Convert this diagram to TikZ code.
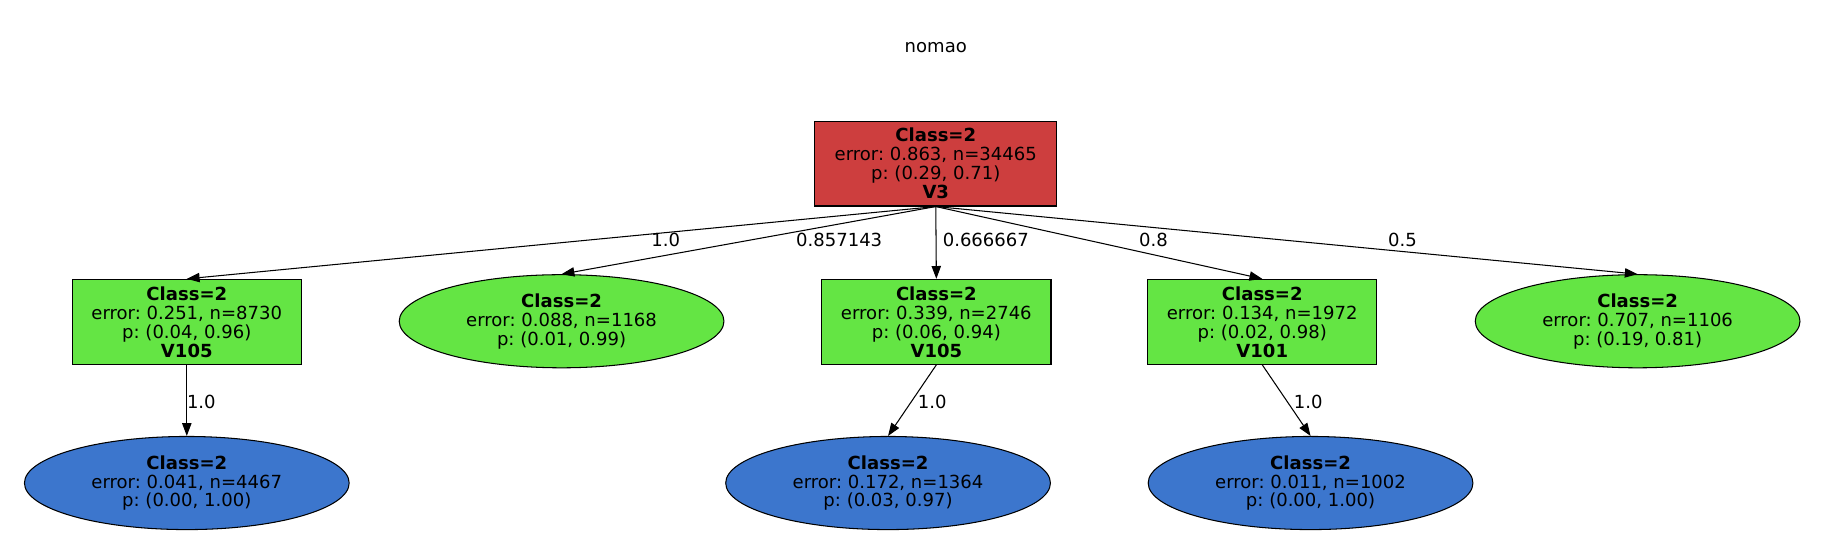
\documentclass[tikz,border=0pt]{standalone}
\usepackage{fontspec}
\setmainfont{DejaVu Sans}
\frenchspacing
\usetikzlibrary{shapes.geometric, arrows.meta}
\definecolor{splitred}{RGB}{205,62,62}
\definecolor{leafgreen}{RGB}{100,229,68}
\definecolor{leafblue}{RGB}{60,118,205}
\tikzstyle{every node}=[font=\fontsize{15.5}{16.3}\selectfont, align=center, inner sep=0pt]
\tikzstyle{split}=[draw, rectangle, line width=0.9pt, minimum width=197pt, minimum height=73pt]
\tikzstyle{leaf}=[draw, ellipse, line width=0.9pt, minimum width=279pt, minimum height=80pt]
\tikzstyle{edge}=[-{Triangle[length=11pt, width=8pt]}, line width=0.9pt]

\begin{document}
\begin{tikzpicture}[x=1pt, y=-1pt]
    \useasboundingbox (0,0) rectangle (1568,477);
    \node       []      (T)  at (804,41) {nomao};
    \node       [split, fill=splitred, minimum width=208pt]  (R)  at (804,140.5) {\textbf{Class=2}\\error: 0.863, n=34465\\p: (0.29, 0.71)\\\textbf{V3}};
    \node       [split, fill=leafgreen]  (B1) at (160.5,276.5) {\textbf{Class=2}\\error: 0.251, n=8730\\p: (0.04, 0.96)\\\textbf{V105}};
    \node       [leaf, fill=leafgreen]   (E2) at (482.5,276) {\textbf{Class=2}\\error: 0.088, n=1168\\p: (0.01, 0.99)};
    \node       [split, fill=leafgreen]  (B3) at (804.5,276.5) {\textbf{Class=2}\\error: 0.339, n=2746\\p: (0.06, 0.94)\\\textbf{V105}};
    \node       [split, fill=leafgreen]  (B4) at (1084.5,276.5) {\textbf{Class=2}\\error: 0.134, n=1972\\p: (0.02, 0.98)\\\textbf{V101}};
    \node       [leaf, fill=leafgreen]   (E5) at (1407,276) {\textbf{Class=2}\\error: 0.707, n=1106\\p: (0.19, 0.81)};
    \node       [leaf, fill=leafblue]    (E6) at (160.5,415) {\textbf{Class=2}\\error: 0.041, n=4467\\p: (0.00, 1.00)};
    \node       [leaf, fill=leafblue]    (E7) at (763,415) {\textbf{Class=2}\\error: 0.172, n=1364\\p: (0.03, 0.97)};
    \node       [leaf, fill=leafblue]    (E8) at (1126,415) {\textbf{Class=2}\\error: 0.011, n=1002\\p: (0.00, 1.00)};
	\draw[edge] (R.south)--(B1.north);
	\draw[edge] (R.south)--(E2.north);
	\draw[edge] (R.south)--(B3.north);
	\draw[edge] (R.south)--(B4.north);
	\draw[edge] (R.south)--(E5.north);
	\draw[edge] (B1.south)--(E6.north);
	\draw[edge] (B3.south)--(E7.north);
	\draw[edge] (B4.south)--(E8.north);
	% edge labels
    \node       []      (L1) at (572,206) {1.0};
    \node       []      (L2) at (721,206) {0.857143};
    \node       []      (L3) at (847,206) {0.666667};
    \node       []      (L4) at (991,206) {0.8};
    \node       []      (L5) at (1205,206) {0.5};
    \node       []      (L6) at (173,345) {1.0};
    \node       []      (L7) at (801,345) {1.0};
    \node       []      (L8) at (1124,345) {1.0};

\end{tikzpicture}
\end{document}
